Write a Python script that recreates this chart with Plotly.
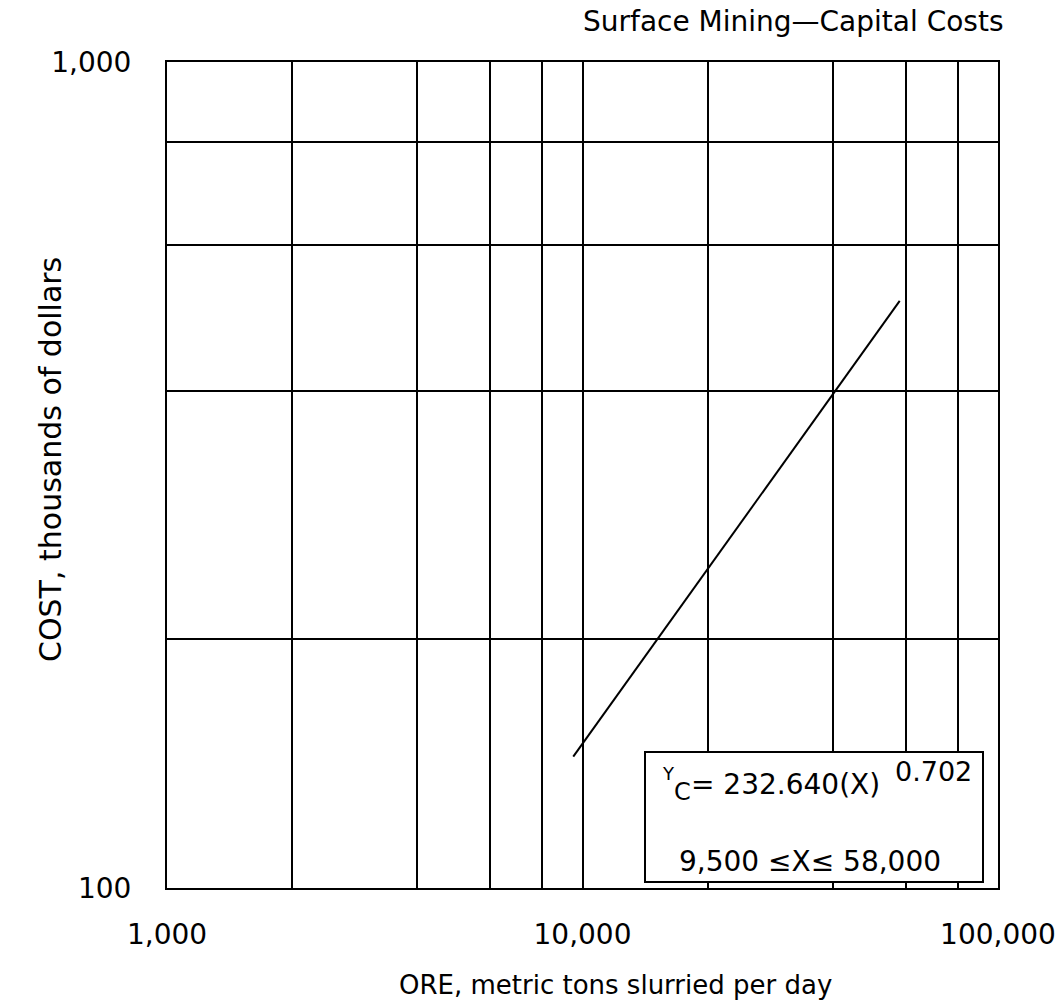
import plotly.graph_objects as go

# Capital cost curve for surface mining (cost in thousands of dollars)
ore_tpd = [9500, 58000]
cost_k = [144.2, 513.7]

x_label_vals = [1000, 10000, 100000]
x_label_text = ["1,000", "10,000", "100,000"]
x_grid_vals = [2000, 4000, 6000, 8000, 20000, 40000, 60000, 80000]

y_label_vals = [100, 1000]
y_label_text = ["100", "1,000"]
y_grid_vals = [200, 400, 600, 800]

FONT = "DejaVu Sans"
W, H = 1059, 1007
L, R, T, B = 167, 61, 62, 119
PW, PH = W - L - R, H - T - B


def px(xp):
    return (xp - L) / PW


def py(yp):
    return (H - B - yp) / PH


fig = go.Figure()
fig.add_trace(go.Scatter(
    x=ore_tpd, y=cost_k, mode="lines",
    line=dict(color="black", width=2), showlegend=False,
))

axis_common = dict(
    type="log",
    automargin=False,
    showline=True, mirror=True, linecolor="black", linewidth=2,
    showgrid=True, gridcolor="black", gridwidth=2,
    zeroline=False,
    tickmode="array",
    ticks="outside", tickcolor="rgba(0,0,0,0)",
    tickfont=dict(family=FONT, size=28, color="black"),
)

fig.update_xaxes(
    **axis_common, range=[3, 5],
    tickvals=x_label_vals, ticktext=x_label_text, ticklen=20,
    minor=dict(tickvals=x_grid_vals, showgrid=True, gridcolor="black",
               gridwidth=2, ticks=""),
)
fig.update_yaxes(
    **axis_common, range=[2, 3],
    tickvals=y_label_vals, ticktext=y_label_text, ticklen=28,
    minor=dict(tickvals=y_grid_vals, showgrid=True, gridcolor="black",
               gridwidth=2, ticks=""),
)

# Equation box
fig.add_shape(type="rect", xref="paper", yref="paper",
              x0=px(645), x1=px(983), y0=py(882), y1=py(752),
              fillcolor="white", line=dict(color="black", width=2), layer="above")

ann = []


def txt(text, xp, yp, size=28, xanchor="left", yanchor="middle", textangle=0):
    ann.append(dict(text=text, x=px(xp), y=py(yp), xref="paper", yref="paper",
                    xanchor=xanchor, yanchor=yanchor, showarrow=False,
                    textangle=textangle, borderpad=0,
                    font=dict(family=FONT, size=size, color="black")))


txt("Y", 661, 773, size=18)
txt("C", 673, 792, size=24)
txt("= 232.640(X)", 690, 784, size=28)
txt("0.702", 894, 771, size=27)
txt("9,500 \u2264X\u2264 58,000", 810, 861, size=28, xanchor="center")

# Title and axis titles
txt("Surface Mining\u2014Capital Costs", 1004, 22, size=28, xanchor="right")
txt("ORE, metric tons slurried per day", 615, 985, size=26, xanchor="center")
txt("COST, thousands of dollars", 50, 460, size=30, xanchor="center", textangle=-90)

fig.update_layout(
    width=W, height=H,
    margin=dict(l=L, r=R, t=T, b=B),
    paper_bgcolor="white", plot_bgcolor="white",
    annotations=ann,
    showlegend=False,
)

fig.write_html("out.html")
